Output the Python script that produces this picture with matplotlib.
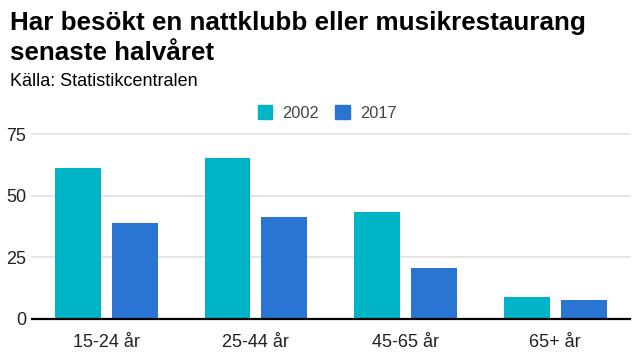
import numpy as np
import matplotlib.pyplot as plt
from matplotlib.patches import Patch

plt.rcParams['font.family'] = ['Liberation Sans', 'DejaVu Sans']

categories = ["15-24 år", "25-44 år", "45-65 år", "65+ år"]
series_names = ["2002", "2017"]
values_2002 = [61.4, 65.4, 43.4, 8.8]
values_2017 = [38.9, 41.4, 20.6, 7.5]
colors = ["#00B4C8", "#2B75D2"]

fig = plt.figure(figsize=(6.4, 3.6), dpi=100)
ax = fig.add_axes([31.5 / 640, 1 - 318.5 / 360, (630 - 31.5) / 640, (318.5 - 134.5) / 360])

x = np.arange(len(categories))
w = 0.307
off = 0.19
ax.bar(x - off, values_2002, w, color=colors[0], zorder=2)
ax.bar(x + off, values_2017, w, color=colors[1], zorder=2)

ax.set_xlim(-0.5, 3.5)
ax.set_ylim(0, 75)
ax.set_yticks([0, 25, 50, 75])
ax.set_xticks(x)
ax.set_xticklabels(categories)
ax.tick_params(axis='both', length=0, labelsize=13, colors="#222222")
ax.tick_params(axis='x', pad=11)
ax.tick_params(axis='y', pad=4)

ax.grid(axis='y', color="#e0e0e0", linewidth=1.2, zorder=0)
for g in ax.get_ygridlines():
    g.set_clip_on(False)
for s in ["top", "right", "left"]:
    ax.spines[s].set_visible(False)
ax.spines["bottom"].set_linewidth(1.6)
ax.spines["bottom"].set_color("black")
ax.spines["bottom"].set_zorder(3)

# title, two lines placed separately
fig.text(10 / 640, 1 - 23 / 360, "Har besökt en nattklubb eller musikrestaurang",
         fontsize=18.7, fontweight='bold', va='center', ha='left')
fig.text(10 / 640, 1 - 53 / 360, "senaste halvåret",
         fontsize=18.7, fontweight='bold', va='center', ha='left')
fig.text(10 / 640, 1 - 82 / 360, "Källa: Statistikcentralen", fontsize=13, va='center', ha='left')

handles = [Patch(color=c) for c in colors]
fig.legend(handles, series_names, loc='center', bbox_to_anchor=(327 / 640, 1 - 113 / 360),
           ncol=2, frameon=False, fontsize=11.8, handlelength=0.9, handleheight=0.9,
           handletextpad=0.6, columnspacing=1.0, labelcolor="#444444")

fig.savefig("out.png", dpi=100)
